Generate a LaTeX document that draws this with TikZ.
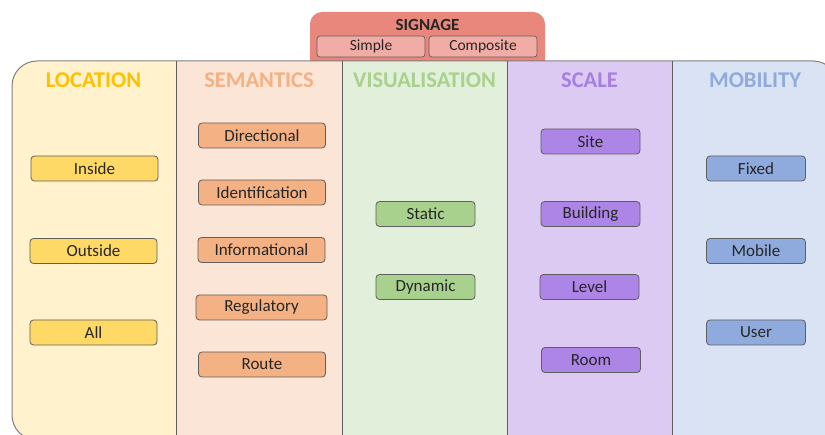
\documentclass[tikz,border=0pt]{standalone}
\usepackage{fontspec}
\setmainfont{Carlito}
\definecolor{sigfill}{HTML}{E9877C}
\definecolor{sigsub}{HTML}{F2ACA6}
\definecolor{locbg}{HTML}{FFF2CC}
\definecolor{loct}{HTML}{FFC000}
\definecolor{locbox}{HTML}{FFD966}
\definecolor{sembg}{HTML}{FBE5D6}
\definecolor{semt}{HTML}{F4B183}
\definecolor{sembox}{HTML}{F4B183}
\definecolor{visbg}{HTML}{E2EFDA}
\definecolor{vist}{HTML}{A9D18E}
\definecolor{visbox}{HTML}{A9D18E}
\definecolor{scabg}{HTML}{DCCAF2}
\definecolor{scat}{HTML}{A67FE2}
\definecolor{scabox}{HTML}{AD85E6}
\definecolor{mobbg}{HTML}{DAE3F3}
\definecolor{mobt}{HTML}{8FAADC}
\definecolor{mobbox}{HTML}{8FAADC}
\definecolor{boxline}{HTML}{5F5F5F}
\definecolor{txt}{HTML}{262626}
\definecolor{frame}{HTML}{7F7F7F}
\tikzset{
  itembox/.style={draw=boxline, line width=0.8pt, rounded corners=3.5pt, minimum height=25pt, inner sep=0pt, text=txt, font=\fontsize{17}{19}\selectfont},
  wide/.style={minimum width=127pt},
  narrow/.style={minimum width=99pt},
  coltitle/.style={font=\fontsize{22.5}{24}\selectfont\bfseries, inner sep=0pt},
  subbox/.style={draw=boxline, line width=0.7pt, fill=sigsub, rounded corners=3pt, minimum width=108pt, minimum height=21pt, inner sep=0pt, text=txt, font=\fontsize{15.5}{17}\selectfont}
}
\begin{document}
\begin{tikzpicture}[x=1pt,y=-1pt]
\useasboundingbox (0,0) rectangle (825,435);
% signage box
\fill[sigfill, rounded corners=12pt] (310,12) rectangle (545,75);
\node[font=\fontsize{17}{19}\selectfont\bfseries, text=txt, inner sep=0pt] (sig) at (427.5,25) {SIGNAGE};
\node[subbox] (simple) at (371,46.5) {Simple};
\node[subbox] (composite) at (483,46.5) {Composite};
% columns
\begin{scope}
\clip[rounded corners=25pt] (12,61) rectangle (838,440);
\fill[locbg] (12,61) rectangle (176.5,440);
\fill[sembg] (176.5,61) rectangle (342,440);
\fill[visbg] (342,61) rectangle (507.5,440);
\fill[scabg] (507.5,61) rectangle (672,440);
\fill[mobbg] (672,61) rectangle (838,440);
\end{scope}
\draw[frame, line width=1pt, rounded corners=25pt] (12,61) rectangle (838,440);
\draw[boxline, line width=0.8pt] (176.5,61) -- (176.5,440);
\draw[boxline, line width=0.8pt] (342,61) -- (342,440);
\draw[boxline, line width=0.8pt] (507.5,61) -- (507.5,440);
\draw[boxline, line width=0.8pt] (672,61) -- (672,440);
% titles
\node[coltitle, text=loct] (tloc) at (93.5,80) {LOCATION};
\node[coltitle, text=semt] (tsem) at (259,80) {SEMANTICS};
\node[coltitle, text=vist] (tvis) at (424.5,80) {VISUALISATION};
\node[coltitle, text=scat] (tsca) at (589.5,80) {SCALE};
\node[coltitle, text=mobt] (tmob) at (755,80) {MOBILITY};
% location
\node[itembox, wide, fill=locbox] (inside) at (94.5,168.5) {Inside};
\node[itembox, wide, fill=locbox] (outside) at (93.5,251) {Outside};
\node[itembox, wide, fill=locbox] (all) at (93.5,332.5) {All};
% semantics
\node[itembox, wide, fill=sembox] (directional) at (262,135.5) {Directional};
\node[itembox, wide, fill=sembox] (identification) at (262,192.5) {Identification};
\node[itembox, wide, fill=sembox] (informational) at (261.5,250) {Informational};
\node[itembox, minimum width=131pt, fill=sembox] (regulatory) at (261.5,307.5) {Regulatory};
\node[itembox, wide, fill=sembox] (route) at (262,364.5) {Route};
% visualisation
\node[itembox, narrow, fill=visbox] (static) at (425.5,214) {Static};
\node[itembox, narrow, fill=visbox] (dynamic) at (425.5,287) {Dynamic};
% scale
\node[itembox, narrow, fill=scabox] (site) at (590.5,141.5) {Site};
\node[itembox, narrow, fill=scabox] (building) at (590.5,214) {Building};
\node[itembox, narrow, fill=scabox] (level) at (589.5,287) {Level};
\node[itembox, narrow, fill=scabox] (room) at (591,360) {Room};
% mobility
\node[itembox, narrow, fill=mobbox] (fixed) at (756,168.5) {Fixed};
\node[itembox, narrow, fill=mobbox] (mobile) at (756,251) {Mobile};
\node[itembox, narrow, fill=mobbox] (user) at (756,332.5) {User};
\end{tikzpicture}
\end{document}
